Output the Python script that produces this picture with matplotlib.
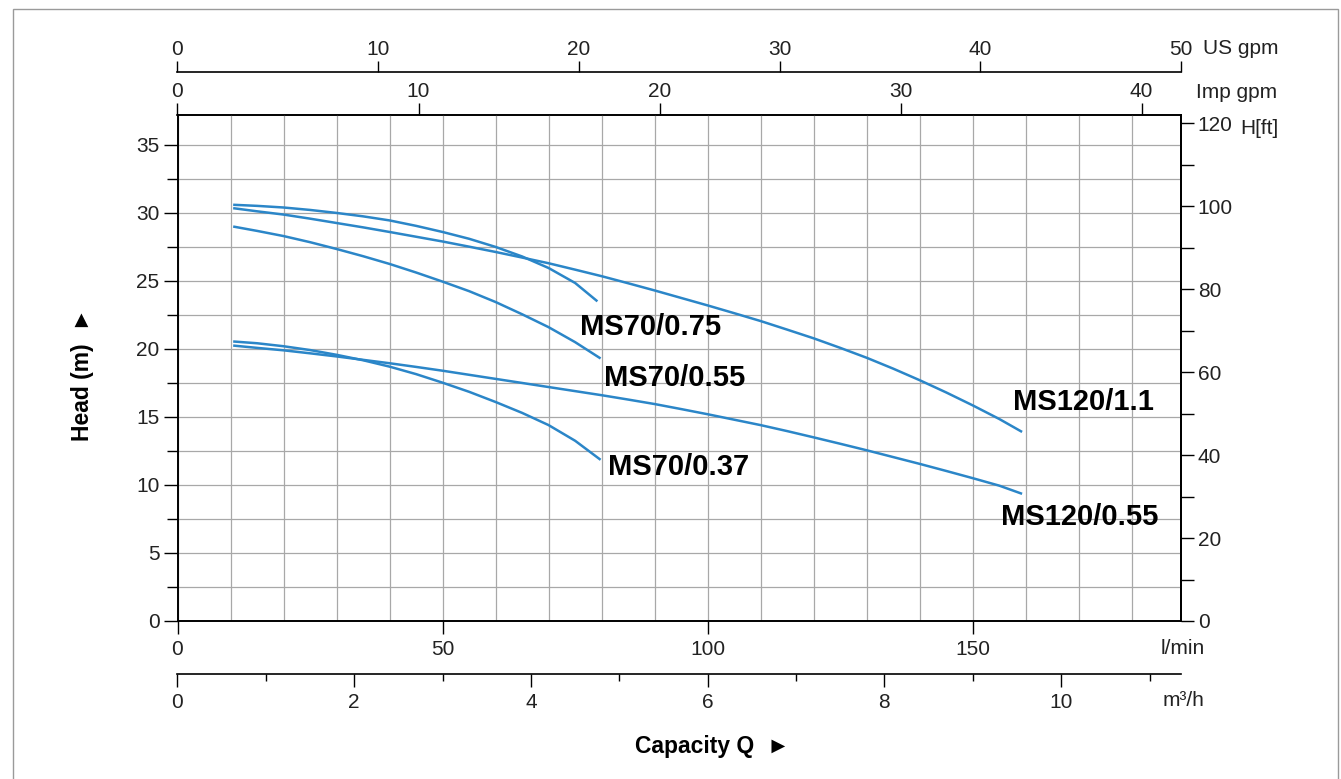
import numpy as np
import matplotlib.pyplot as plt
from matplotlib.ticker import MultipleLocator, FixedLocator
from matplotlib.patches import Rectangle

plt.rcParams['font.family'] = ['Liberation Sans', 'DejaVu Sans']

# capacity in l/min, head in m
q_70 = [10.5, 15, 20, 25, 30, 35, 40, 45, 50, 55, 60, 65, 70, 75]
h_70_075 = [30.6, 30.52, 30.4, 30.22, 30.0, 29.75, 29.45, 29.05, 28.6, 28.1,
            27.5, 26.8, 25.95, 24.85]
h_70_055 = [29.0, 28.68, 28.3, 27.85, 27.35, 26.82, 26.25, 25.62, 24.95, 24.25,
            23.45, 22.55, 21.6, 20.5]
h_70_037 = [20.55, 20.42, 20.2, 19.92, 19.57, 19.17, 18.7, 18.15, 17.52, 16.85,
            16.1, 15.3, 14.4, 13.25]
# end points of the MS70 curves
q_end_075, h_end_075 = 79.2, 23.5
q_end_055, h_end_055 = 79.8, 19.3
q_end_037, h_end_037 = 79.8, 11.85

q_120 = [10.5, 15, 20, 25, 30, 35, 40, 45, 50, 55, 60, 65, 70, 75, 80, 85, 90,
         95, 100, 105, 110, 115, 120, 125, 130, 135, 140, 145, 150, 155, 159.3]
h_120_11 = [30.35, 30.12, 29.88, 29.58, 29.26, 28.94, 28.6, 28.25, 27.9, 27.52,
            27.13, 26.72, 26.3, 25.83, 25.35, 24.83, 24.3, 23.75, 23.2, 22.63,
            22.05, 21.42, 20.78, 20.08, 19.35, 18.55, 17.7, 16.8, 15.85, 14.85, 13.9]
h_120_055 = [20.25, 20.08, 19.9, 19.68, 19.45, 19.2, 18.95, 18.68, 18.4, 18.1,
             17.8, 17.5, 17.2, 16.9, 16.6, 16.28, 15.95, 15.58, 15.2, 14.8,
             14.4, 13.96, 13.5, 13.03, 12.55, 12.05, 11.55, 11.03, 10.5, 9.95, 9.35]

names = ['MS70/0.75', 'MS70/0.55', 'MS70/0.37', 'MS120/1.1', 'MS120/0.55']

US_GPM = 3.785411784
IMP_GPM = 4.54609
M_TO_FT = 3.28084

W, H = 1341, 779
fig = plt.figure(figsize=(W / 100, H / 100), dpi=100)
ax = fig.add_axes([177.5 / W, 1 - 621 / H, (1181 - 177.5) / W, (621 - 115) / H])

blue = '#2b86c8'
curves = [(q_70 + [q_end_075], h_70_075 + [h_end_075]),
          (q_70 + [q_end_055], h_70_055 + [h_end_055]),
          (q_70 + [q_end_037], h_70_037 + [h_end_037]),
          (q_120, h_120_11), (q_120, h_120_055)]
for q, h in curves:
    ax.plot(q, h, color=blue, lw=1.8, solid_capstyle='butt',
            solid_joinstyle='round', zorder=3)

# curve names, positioned by eye (left edge, baseline)
lbl_pos = [(75.9, 21.03), (80.5, 17.28), (81.2, 10.74), (157.6, 15.51), (155.4, 7.06)]
for name, (x, y) in zip(names, lbl_pos):
    ax.text(x, y, name, fontsize=21, fontweight='bold', ha='left', va='baseline',
            color='black', zorder=4)

ax.set_xlim(0, 50 * US_GPM)
ax.set_ylim(0, 37.2)

ax.xaxis.set_major_locator(FixedLocator([0, 50, 100, 150]))
ax.xaxis.set_minor_locator(MultipleLocator(10))
ax.yaxis.set_major_locator(MultipleLocator(5))
ax.yaxis.set_minor_locator(MultipleLocator(2.5))
ax.grid(True, which='both', color='#a8a8a8', lw=0.9)
ax.set_axisbelow(True)

ax.tick_params(axis='x', which='major', direction='out', length=9, width=1,
               labelsize=15, labelcolor='#222222', pad=5)
ax.tick_params(axis='x', which='minor', length=0)
ax.tick_params(axis='y', which='major', direction='out', length=10, width=1,
               labelsize=15, labelcolor='#222222', pad=3)
ax.tick_params(axis='y', which='minor', direction='out', length=8, width=1)
ax.tick_params(top=False, right=False)
for s in ax.spines.values():
    s.set_linewidth(1.4)
ax.spines['top'].set_linewidth(1.2)

# right axis: feet
ay = ax.secondary_yaxis('right', functions=(lambda m: m * M_TO_FT, lambda f: f / M_TO_FT))
ay.yaxis.set_major_locator(MultipleLocator(20))
ay.yaxis.set_minor_locator(MultipleLocator(10))
ay.tick_params(which='major', direction='out', length=9, width=1, labelsize=15,
               labelcolor='#222222', pad=3)
ay.tick_params(which='minor', direction='out', length=9, width=1)
ay.spines['right'].set_linewidth(1.4)

# top axes: Imp gpm and US gpm
a_imp = ax.secondary_xaxis('top', functions=(lambda x: x / IMP_GPM, lambda g: g * IMP_GPM))
a_imp.xaxis.set_major_locator(FixedLocator([0, 10, 20, 30, 40]))
a_imp.tick_params(direction='out', length=9, width=1, labelsize=15,
                  labelcolor='#222222', pad=1)
a_imp.spines['top'].set_linewidth(1.2)

a_us = ax.secondary_xaxis((621 - 72) / (621 - 115),
                          functions=(lambda x: x / US_GPM, lambda g: g * US_GPM))
a_us.xaxis.set_major_locator(FixedLocator([0, 10, 20, 30, 40, 50]))
a_us.tick_params(direction='out', length=8, width=1, labelsize=15,
                 labelcolor='#222222', pad=1)
a_us.spines['top'].set_linewidth(1.2)
a_us.spines['bottom'].set_linewidth(1.2)

# bottom extra axis: m3/h
a_m3 = ax.secondary_xaxis(-(674 - 621) / (621 - 115),
                          functions=(lambda x: x * 0.06, lambda m: m / 0.06))
a_m3.xaxis.set_major_locator(FixedLocator([0, 2, 4, 6, 8, 10]))
a_m3.xaxis.set_minor_locator(FixedLocator([1, 3, 5, 7, 9, 11]))
a_m3.tick_params(which='major', direction='out', length=9, width=1, labelsize=15,
                 labelcolor='#222222', pad=5)
a_m3.tick_params(which='minor', direction='out', length=5, width=1)
a_m3.spines['top'].set_linewidth(1.2)
a_m3.spines['bottom'].set_linewidth(1.2)

# unit captions
def px(x, y):
    return x / W, 1 - y / H

fig.text(*px(1203, 48), 'US gpm', fontsize=15, color='#222222', ha='left', va='center')
fig.text(*px(1196, 92), 'Imp gpm', fontsize=15, color='#222222', ha='left', va='center')
fig.text(*px(1240, 128), 'H[ft]', fontsize=15, color='#222222', ha='left', va='center')
fig.text(*px(1183, 648), 'l/min', fontsize=15, color='#222222', ha='center', va='center')
fig.text(*px(1183, 700), 'm³/h', fontsize=15, color='#222222', ha='center', va='center')

fig.text(*px(82, 375), 'Head (m)  ►', fontsize=16.5, fontweight='bold', rotation=90,
         ha='center', va='center')
fig.text(*px(712, 746), 'Capacity Q  ►', fontsize=16.5, fontweight='bold',
         ha='center', va='center')

fig.patches.append(Rectangle((13 / W, -0.05), (1338 - 13) / W, 1 - 9 / H + 0.05,
                             transform=fig.transFigure, fill=False,
                             ec='#9a9a9a', lw=1.0))

fig.savefig('out.png', dpi=100)
